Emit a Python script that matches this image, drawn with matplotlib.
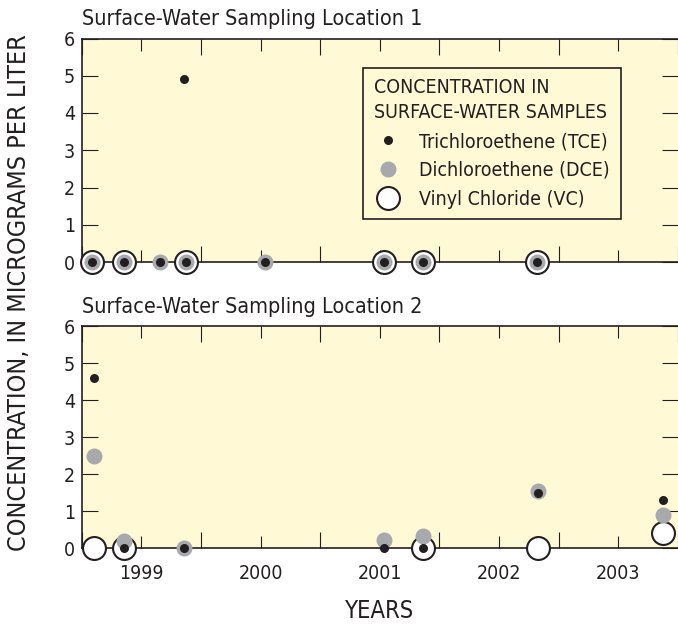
import matplotlib
matplotlib.use("Agg")
import matplotlib.pyplot as plt
from matplotlib.lines import Line2D
from matplotlib.ticker import MultipleLocator

plt.rcParams['font.family'] = ['DejaVu Sans']
plt.rcParams['font.stretch'] = 'condensed'

# location 1 (decimal years)
tce1_dates = [1998.59, 1998.855, 1999.16, 1999.357, 1999.377, 2000.04, 2001.034, 2001.36, 2002.32]
tce1_vals = [0, 0, 0, 4.9, 0, 0, 0, 0, 0]
dce1_dates = [1998.59, 1998.855, 1999.16, 1999.377, 2000.04, 2001.034, 2001.36, 2002.32]
dce1_vals = [0, 0, 0, 0, 0, 0, 0, 0]
vc1_dates = [1998.59, 1998.855, 1999.377, 2001.034, 2001.36, 2002.32]
vc1_vals = [0, 0, 0, 0, 0, 0]

# location 2
tce2_dates = [1998.6, 1998.857, 1999.357, 2001.037, 2001.36, 2002.33, 2003.375]
tce2_vals = [4.6, 0, 0, 0, 0, 1.5, 1.3]
dce2_dates = [1998.6, 1998.857, 1999.357, 2001.037, 2001.36, 2002.33, 2003.375]
dce2_vals = [2.5, 0.2, 0, 0.22, 0.33, 1.55, 0.9]
vc2_dates = [1998.6, 1998.857, 2001.36, 2002.33, 2003.375]
vc2_vals = [0, 0, 0, 0, 0.42]

years = [1999, 2000, 2001, 2002, 2003]
titles = ["Surface-Water Sampling Location 1", "Surface-Water Sampling Location 2"]

INK = "#231f20"
GRAY = "#a7a9ac"
BG = "#fff9d6"

fig = plt.figure(figsize=(6.78, 6.30), dpi=100)
ax1 = fig.add_axes([81.7 / 678, 1 - 262 / 630, 1 - 81.7 / 678, 223.5 / 630])
ax2 = fig.add_axes([81.7 / 678, 1 - 548.3 / 630, 1 - 81.7 / 678, 222.3 / 630])

series = [
    (ax1, tce1_dates, tce1_vals, dce1_dates, dce1_vals, vc1_dates, vc1_vals),
    (ax2, tce2_dates, tce2_vals, dce2_dates, dce2_vals, vc2_dates, vc2_vals),
]

for i, (ax, td, tv, dd, dv, vd, vv) in enumerate(series):
    ax.set_facecolor(BG)
    ax.plot(vd, vv, 'o', ms=16.5, mfc='white', mec=INK, mew=1.5, ls='none',
            zorder=3, clip_on=False)
    ax.plot(dd, dv, 'o', ms=11.5, mfc=GRAY, mec='none', ls='none',
            zorder=4, clip_on=False)
    ax.plot(td, tv, 'o', ms=6.5, mfc=INK, mec='none', ls='none',
            zorder=5, clip_on=False)

    ax.set_xlim(1998.5, 2003.5)
    ax.set_ylim(0, 6)
    ax.set_xticks(years)
    ax.xaxis.set_minor_locator(MultipleLocator(0.5))
    ax.set_yticks(range(7))
    ax.tick_params(axis='x', which='major', direction='in', length=8.6, width=0.8,
                   top=True, bottom=True, color=INK, labelcolor=INK,
                   labelsize=14, pad=11.5, labelbottom=(i == 1))
    ax.tick_params(axis='x', which='minor', direction='in', length=11.5, width=0.8,
                   top=True, bottom=True, color=INK)
    ax.tick_params(axis='y', direction='in', length=11.5, width=0.8,
                   left=True, right=True, color=INK, labelcolor=INK,
                   labelsize=14, pad=5)
    for side in ['left', 'top', 'bottom']:
        ax.spines[side].set_color(INK)
        ax.spines[side].set_linewidth(1.2)
    ax.spines['right'].set_visible(False)
    ax.set_title(titles[i], loc='left', fontsize=15.5, color=INK, pad=9.5)

handles = [
    Line2D([], [], marker='o', ls='none', ms=6.5, mfc=INK, mec='none'),
    Line2D([], [], marker='o', ls='none', ms=11.5, mfc=GRAY, mec='none'),
    Line2D([], [], marker='o', ls='none', ms=16.5, mfc='white', mec=INK, mew=1.5),
]
labels = ["Trichloroethene (TCE)", "Dichloroethene (DCE)", "Vinyl Chloride (VC)"]
leg = ax1.legend(handles, labels, title="CONCENTRATION IN\nSURFACE-WATER SAMPLES",
                 loc='upper left', bbox_to_anchor=(363.3 / 678, 1 - 67.7 / 630),
                 bbox_transform=fig.transFigure, fontsize=14, title_fontsize=14,
                 alignment='left', frameon=True, fancybox=False, framealpha=1,
                 borderpad=0.55, handlelength=1.47, handletextpad=0.87,
                 labelspacing=0.5, borderaxespad=0)
leg.get_frame().set_edgecolor(INK)
leg.get_frame().set_linewidth(1.2)
leg.get_frame().set_facecolor(BG)
for t in leg.get_texts():
    t.set_color(INK)
leg.get_title().set_color(INK)
leg.get_title().set_linespacing(1.4)

fig.text(19 / 678, 1 - 293 / 630, "CONCENTRATION, IN MICROGRAMS PER LITER",
         rotation=90, ha='center', va='center', fontsize=18, color=INK)
fig.text(380 / 678, 1 - 611 / 630, "YEARS", ha='center', va='center',
         fontsize=17, color=INK)

fig.savefig("out.png", dpi=100)
